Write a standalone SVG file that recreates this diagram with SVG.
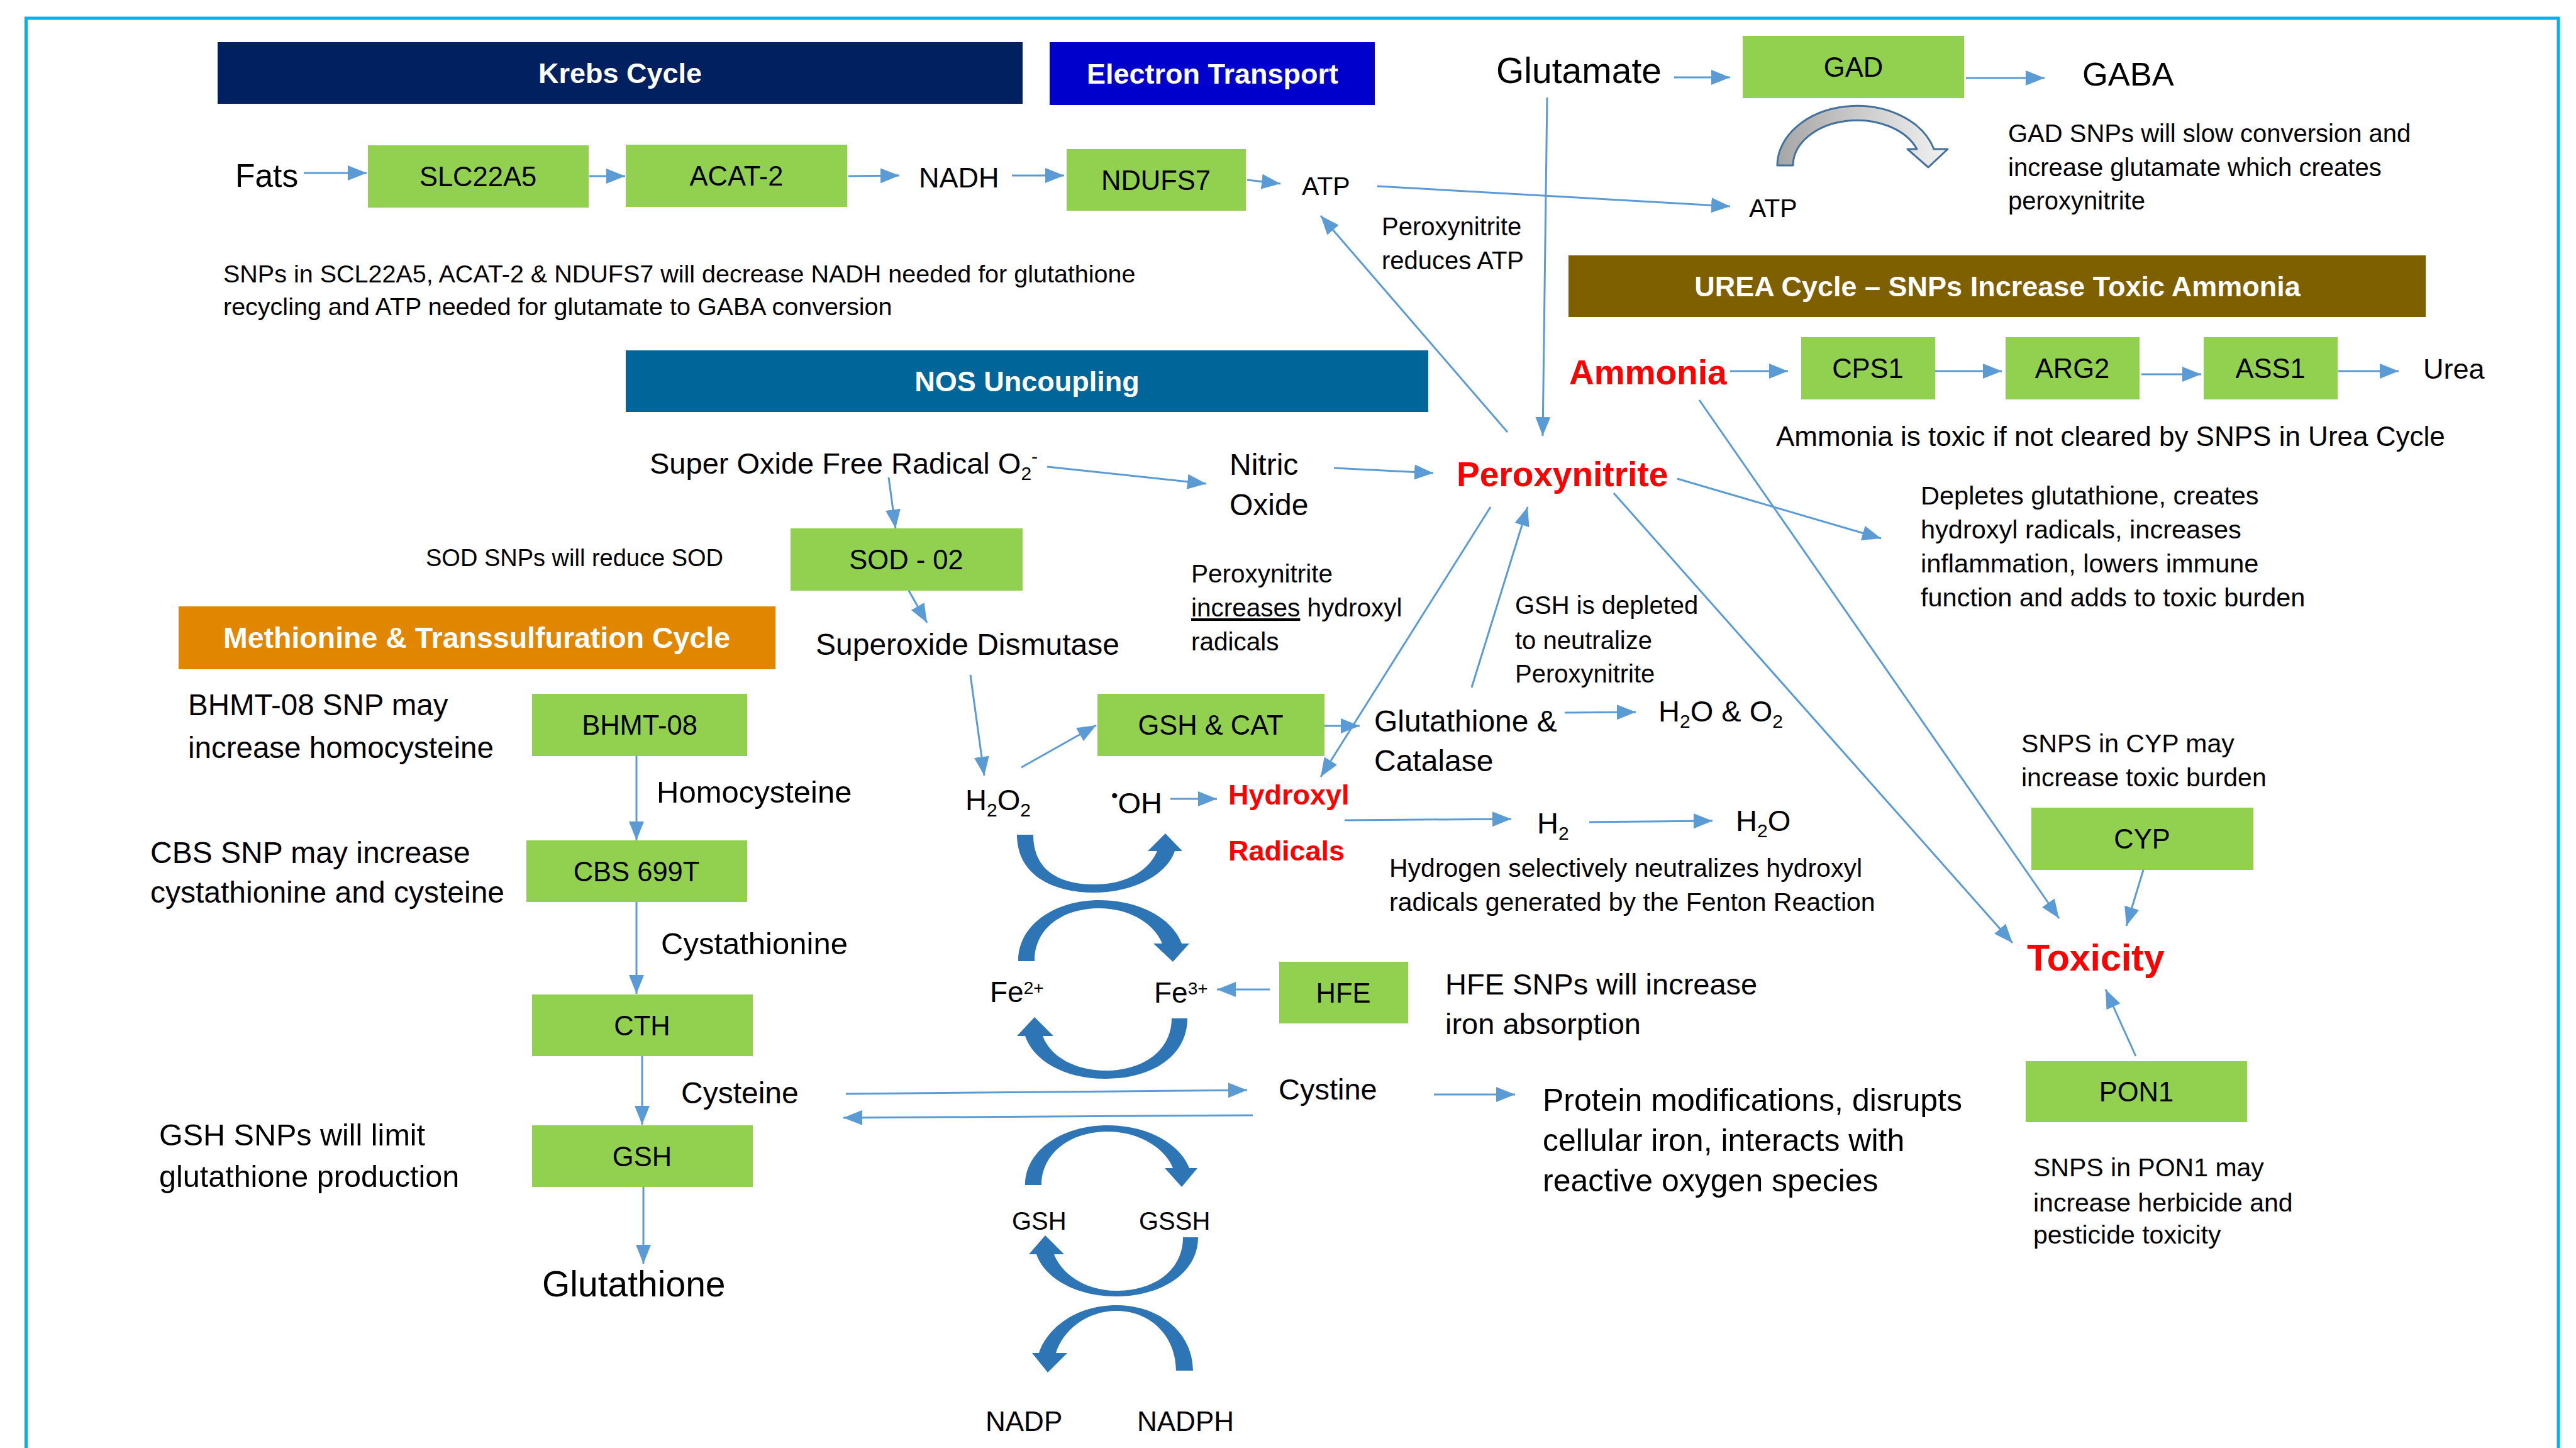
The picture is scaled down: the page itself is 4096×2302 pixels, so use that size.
<svg xmlns="http://www.w3.org/2000/svg" width="4096" height="2302" viewBox="0 0 4096 2302">
<defs>
<style>
text{font-family:"Liberation Sans",Arial,sans-serif;fill:#000}
.box{fill:#92D050}
.lbl{font-size:43.5px;text-anchor:middle}
.ban{font-size:45px;font-weight:bold;fill:#fff;text-anchor:middle}
.red{fill:#FF0000;font-weight:bold}
.conn{stroke:#5B9BD5;stroke-width:3;fill:none;marker-end:url(#ah)}
.cyc{fill:#2E75B6}
</style>
<marker id="ah" markerUnits="userSpaceOnUse" markerWidth="30" markerHeight="24" refX="30" refY="12" orient="auto"><path d="M0,0 L30,12 L0,24 Z" fill="#5B9BD5"/></marker>
<linearGradient id="gray" x1="0" y1="0" x2="1" y2="0"><stop offset="0" stop-color="#A6A6A6"/><stop offset="1" stop-color="#F2F2F2"/></linearGradient>
</defs>
<rect width="4096" height="2302" fill="#fff"/>
<path id="frame" d="M41.5,2310 V29 H4068 V2310" fill="none" stroke="#00B0F0" stroke-width="5"/>

<!-- banners -->
<g id="krebs"><rect x="346" y="67" width="1280" height="98" fill="#002060"/><text class="ban" x="986" y="132">Krebs Cycle</text></g>
<g id="electron"><rect x="1669" y="67" width="517" height="100" fill="#0000CC"/><text class="ban" x="1928" y="133">Electron Transport</text></g>
<g id="urea-banner"><rect x="2494" y="406" width="1363" height="98" fill="#7F6000"/><text class="ban" x="3176" y="471">UREA Cycle – SNPs Increase Toxic Ammonia</text></g>
<g id="nos"><rect x="995" y="557" width="1276" height="98" fill="#00669A"/><text class="ban" x="1633" y="622">NOS Uncoupling</text></g>
<g id="methionine"><rect x="284" y="964" width="949" height="100" fill="#E08600"/><text class="ban" x="758" y="1030" style="font-size:46.5px">Methionine &amp; Transsulfuration Cycle</text></g>

<!-- green boxes -->
<g id="slc22a5"><rect class="box" x="585" y="231" width="351" height="99"/><text class="lbl" x="760" y="296">SLC22A5</text></g>
<g id="acat2"><rect class="box" x="995" y="230" width="352" height="99"/><text class="lbl" x="1171" y="295">ACAT-2</text></g>
<g id="ndufs7"><rect class="box" x="1696" y="237" width="285" height="98"/><text class="lbl" x="1838" y="302">NDUFS7</text></g>
<g id="gad"><rect class="box" x="2771" y="57" width="352" height="99"/><text class="lbl" x="2947" y="122">GAD</text></g>
<g id="cps1"><rect class="box" x="2864" y="536" width="213" height="99"/><text class="lbl" x="2970" y="601">CPS1</text></g>
<g id="arg2"><rect class="box" x="3189" y="536" width="213" height="99"/><text class="lbl" x="3295" y="601">ARG2</text></g>
<g id="ass1"><rect class="box" x="3504" y="536" width="213" height="99"/><text class="lbl" x="3610" y="601">ASS1</text></g>
<g id="sod02"><rect class="box" x="1257" y="840" width="369" height="99"/><text class="lbl" x="1441" y="905">SOD - 02</text></g>
<g id="bhmt08"><rect class="box" x="846" y="1103" width="342" height="99"/><text class="lbl" x="1017" y="1168">BHMT-08</text></g>
<g id="cbs699t"><rect class="box" x="837" y="1336" width="351" height="98"/><text class="lbl" x="1012" y="1401">CBS 699T</text></g>
<g id="cth"><rect class="box" x="846" y="1581" width="351" height="98"/><text class="lbl" x="1021" y="1646">CTH</text></g>
<g id="gsh-box"><rect class="box" x="846" y="1789" width="351" height="98"/><text class="lbl" x="1021" y="1854">GSH</text></g>
<g id="gshcat"><rect class="box" x="1745" y="1103" width="361" height="99"/><text class="lbl" x="1925" y="1168">GSH &amp; CAT</text></g>
<g id="hfe"><rect class="box" x="2034" y="1529" width="205" height="98"/><text class="lbl" x="2136" y="1594">HFE</text></g>
<g id="cyp"><rect class="box" x="3230" y="1284" width="353" height="99"/><text class="lbl" x="3406" y="1349">CYP</text></g>
<g id="pon1"><rect class="box" x="3221" y="1687" width="352" height="97"/><text class="lbl" x="3397" y="1751">PON1</text></g>

<!-- text nodes -->
<g id="fats"><text x="374" y="297" font-size="51.5">Fats</text></g>
<g id="nadh"><text x="1461" y="298" font-size="45">NADH</text></g>
<g id="atp1"><text x="2070" y="310" font-size="41">ATP</text></g>
<g id="atp2"><text x="2781" y="345" font-size="41">ATP</text></g>
<g id="glutamate"><text x="2379" y="132" font-size="57">Glutamate</text></g>
<g id="gaba"><text x="3311" y="136" font-size="52.5">GABA</text></g>
<g id="krebs-note"><text font-size="39.5"><tspan x="355" y="449">SNPs in SCL22A5, ACAT-2 &amp; NDUFS7 will decrease NADH needed for glutathione</tspan><tspan x="355" y="501">recycling and ATP needed for glutamate to GABA conversion</tspan></text></g>
<g id="gad-note"><text font-size="40"><tspan x="3193" y="226">GAD SNPs will slow conversion and</tspan><tspan x="3193" y="280">increase glutamate which creates</tspan><tspan x="3193" y="333">peroxynitrite</tspan></text></g>
<g id="perox-atp-note"><text font-size="40"><tspan x="2197" y="374">Peroxynitrite</tspan><tspan x="2197" y="428">reduces ATP</tspan></text></g>
<g id="ammonia"><text class="red" x="2495" y="611" font-size="55">Ammonia</text></g>
<g id="urea"><text x="3853" y="602" font-size="45">Urea</text></g>
<g id="ammonia-note"><text x="2824" y="709" font-size="44">Ammonia is toxic if not cleared by SNPS in Urea Cycle</text></g>
<g id="superoxide"><text x="1033" y="753" font-size="47">Super Oxide Free Radical O<tspan font-size="30" dy="10">2</tspan><tspan font-size="30" dy="-27">-</tspan></text></g>
<g id="nitric-oxide"><text font-size="48"><tspan x="1955" y="755">Nitric</tspan><tspan x="1955" y="819">Oxide</tspan></text></g>
<g id="peroxynitrite"><text class="red" x="2316" y="773" font-size="55">Peroxynitrite</text></g>
<g id="depletes-note"><text font-size="41.5"><tspan x="3054" y="802">Depletes glutathione, creates</tspan><tspan x="3054" y="856">hydroxyl radicals, increases</tspan><tspan x="3054" y="910">inflammation, lowers immune</tspan><tspan x="3054" y="964">function and adds to toxic burden</tspan></text></g>
<g id="sod-note"><text x="677" y="900" font-size="38">SOD SNPs will reduce SOD</text></g>
<g id="perox-hydroxyl-note"><text font-size="40.5"><tspan x="1894" y="926">Peroxynitrite</tspan><tspan x="1894" y="980" text-decoration="underline">increases</tspan><tspan> hydroxyl</tspan><tspan x="1894" y="1034">radicals</tspan></text></g>
<g id="gsh-depleted-note"><text font-size="40"><tspan x="2409" y="976">GSH is depleted</tspan><tspan x="2409" y="1032">to neutralize</tspan><tspan x="2409" y="1085">Peroxynitrite</tspan></text></g>
<g id="superoxide-dismutase"><text x="1297" y="1041" font-size="48">Superoxide Dismutase</text></g>
<g id="bhmt-note"><text font-size="47.5"><tspan x="299" y="1137">BHMT-08 SNP may</tspan><tspan x="299" y="1205">increase homocysteine</tspan></text></g>
<g id="glutathione-catalase"><text font-size="48"><tspan x="2185" y="1163">Glutathione &amp;</tspan><tspan x="2185" y="1226">Catalase</tspan></text></g>
<g id="h2o-o2"><text x="2637" y="1147" font-size="47">H<tspan font-size="30" dy="10">2</tspan><tspan dy="-10">O &amp; O</tspan><tspan font-size="30" dy="10">2</tspan></text></g>
<g id="homocysteine"><text x="1044" y="1276" font-size="49">Homocysteine</text></g>
<g id="h2o2"><text x="1535" y="1288" font-size="47">H<tspan font-size="30" dy="10">2</tspan><tspan dy="-10">O</tspan><tspan font-size="30" dy="10">2</tspan></text></g>
<g id="oh"><text x="1767" y="1293" font-size="47"><tspan font-size="30" dy="-18">•</tspan><tspan dy="18">OH</tspan></text></g>
<g id="hydroxyl-radicals"><text class="red" font-size="45"><tspan x="1953" y="1279">Hydroxyl</tspan><tspan x="1953" y="1368">Radicals</tspan></text></g>
<g id="h2"><text x="2444" y="1325" font-size="47">H<tspan font-size="30" dy="10">2</tspan></text></g>
<g id="h2o"><text x="2760" y="1321" font-size="47">H<tspan font-size="30" dy="10">2</tspan><tspan dy="-10">O</tspan></text></g>
<g id="cbs-note"><text font-size="48"><tspan x="239" y="1372">CBS SNP may increase</tspan><tspan x="239" y="1435">cystathionine and cysteine</tspan></text></g>
<g id="hydrogen-note"><text font-size="41"><tspan x="2209" y="1394">Hydrogen selectively neutralizes hydroxyl</tspan><tspan x="2209" y="1448">radicals generated by the Fenton Reaction</tspan></text></g>
<g id="cystathionine"><text x="1051" y="1517" font-size="49">Cystathionine</text></g>
<g id="cyp-note"><text font-size="41"><tspan x="3214" y="1196">SNPS in CYP may</tspan><tspan x="3214" y="1250">increase toxic burden</tspan></text></g>
<g id="toxicity"><text class="red" x="3223" y="1543" font-size="59">Toxicity</text></g>
<g id="fe2"><text x="1574" y="1593" font-size="46">Fe<tspan font-size="28" dy="-13">2+</tspan></text></g>
<g id="fe3"><text x="1835" y="1594" font-size="46">Fe<tspan font-size="28" dy="-13">3+</tspan></text></g>
<g id="hfe-note"><text font-size="47"><tspan x="2298" y="1581">HFE SNPs will increase</tspan><tspan x="2298" y="1644">iron absorption</tspan></text></g>
<g id="cysteine"><text x="1083" y="1754" font-size="48">Cysteine</text></g>
<g id="cystine"><text x="2033" y="1748" font-size="47">Cystine</text></g>
<g id="protein-note"><text font-size="50"><tspan x="2453" y="1766">Protein modifications, disrupts</tspan><tspan x="2453" y="1830">cellular iron, interacts with</tspan><tspan x="2453" y="1894">reactive oxygen species</tspan></text></g>
<g id="gsh-note"><text font-size="48.5"><tspan x="253" y="1821">GSH SNPs will limit</tspan><tspan x="253" y="1887">glutathione production</tspan></text></g>
<g id="gsh-cyc"><text x="1609" y="1955" font-size="40">GSH</text></g>
<g id="gssh"><text x="1811" y="1955" font-size="40">GSSH</text></g>
<g id="glutathione"><text x="862" y="2061" font-size="57">Glutathione</text></g>
<g id="pon1-note"><text font-size="41"><tspan x="3233" y="1870">SNPS in PON1 may</tspan><tspan x="3233" y="1926">increase herbicide and</tspan><tspan x="3233" y="1977">pesticide toxicity</tspan></text></g>
<g id="nadp"><text x="1567" y="2275" font-size="44">NADP</text></g>
<g id="nadph"><text x="1808" y="2275" font-size="44">NADPH</text></g>

<!-- GAD curved arrow -->
<g id="gad-arrow"><path d="M2826,263 A127,95 0 0 1 3075,237 L3097,237 L3066,266 L3033,237 L3048,237 A102,72 0 0 0 2851,263 Z" fill="url(#gray)" stroke="#41719C" stroke-width="3" stroke-linejoin="round"/></g>

<!-- cycle arrows -->
<g id="cycles">
<path class="cyc" d="M1617,1327 C1617,1390 1672,1419 1740,1419 C1800,1419 1855,1392 1868,1353 L1880,1353 L1853,1325 L1825,1353 L1840,1353 C1826,1385 1790,1406 1740,1406 C1686,1406 1643,1385 1643,1327 Z"/>
<path class="cyc" d="M1619,1528 C1619,1468 1680,1431 1748,1431 C1815,1431 1865,1462 1879,1500 L1891,1500 L1865,1529 L1834,1500 L1848,1500 C1835,1468 1795,1444 1748,1444 C1690,1444 1645,1475 1645,1528 Z"/>
<path class="cyc" d="M1888,1619 C1888,1680 1830,1715 1758,1715 C1690,1715 1643,1685 1630,1647 L1617,1647 L1645,1617 L1675,1647 L1658,1647 C1670,1680 1710,1702 1758,1702 C1818,1702 1863,1670 1863,1619 Z"/>
<path class="cyc" d="M1630,1884 C1630,1828 1690,1789 1761,1789 C1830,1789 1878,1822 1891,1857 L1904,1857 L1879,1887 L1852,1857 L1865,1857 C1853,1826 1812,1799 1761,1799 C1700,1799 1656,1835 1656,1884 Z"/>
<path class="cyc" d="M1905,1967 C1905,2025 1845,2061 1775,2061 C1708,2061 1660,2030 1648,1994 L1636,1994 L1662,1964 L1692,1994 L1676,1994 C1688,2025 1725,2052 1775,2052 C1835,2052 1881,2020 1881,1967 Z"/>
<path class="cyc" d="M1897,2179 C1897,2120 1845,2075 1775,2075 C1710,2075 1665,2112 1652,2151 L1641,2151 L1666,2182 L1697,2151 L1679,2151 C1690,2115 1728,2084 1775,2084 C1830,2084 1870,2125 1870,2179 Z"/>
</g>

<!-- connectors -->
<g id="connectors">
<line class="conn" x1="483" y1="275" x2="583" y2="275"/>
<line class="conn" x1="937" y1="280" x2="994" y2="280"/>
<line class="conn" x1="1349" y1="280" x2="1430" y2="279"/>
<line class="conn" x1="1609" y1="279" x2="1692" y2="279"/>
<line class="conn" x1="1983" y1="286" x2="2036" y2="292"/>
<line class="conn" x1="2190" y1="296" x2="2751" y2="328"/>
<line class="conn" x1="2662" y1="123" x2="2751" y2="123"/>
<line class="conn" x1="3126" y1="124" x2="3251" y2="124"/>
<line class="conn" x1="2460" y1="155" x2="2453" y2="693"/>
<line class="conn" x1="2397" y1="687" x2="2100" y2="343"/>
<line class="conn" x1="1665" y1="742" x2="1918" y2="769"/>
<line class="conn" x1="2121" y1="744" x2="2279" y2="752"/>
<line class="conn" x1="1413" y1="759" x2="1424" y2="840"/>
<line class="conn" x1="1445" y1="939" x2="1474" y2="990"/>
<line class="conn" x1="2751" y1="590" x2="2843" y2="590"/>
<line class="conn" x1="3077" y1="590" x2="3183" y2="590"/>
<line class="conn" x1="3405" y1="595" x2="3500" y2="595"/>
<line class="conn" x1="3718" y1="590" x2="3814" y2="590"/>
<line class="conn" x1="2702" y1="636" x2="3274" y2="1460"/>
<line class="conn" x1="2566" y1="784" x2="3200" y2="1499"/>
<line class="conn" x1="2667" y1="761" x2="2991" y2="856"/>
<line class="conn" x1="2370" y1="806" x2="2100" y2="1235"/>
<line class="conn" x1="2340" y1="1093" x2="2429" y2="806"/>
<line class="conn" x1="2106" y1="1154" x2="2162" y2="1154"/>
<line class="conn" x1="2488" y1="1133" x2="2601" y2="1132"/>
<line class="conn" x1="1543" y1="1073" x2="1565" y2="1233"/>
<line class="conn" x1="1624" y1="1220" x2="1743" y2="1153"/>
<line class="conn" x1="1861" y1="1270" x2="1935" y2="1270"/>
<line class="conn" x1="2138" y1="1304" x2="2403" y2="1302"/>
<line class="conn" x1="2527" y1="1307" x2="2723" y2="1305"/>
<line class="conn" x1="2019" y1="1573" x2="1935" y2="1573"/>
<line class="conn" x1="1345" y1="1739" x2="1983" y2="1733"/>
<line class="conn" x1="1992" y1="1773" x2="1341" y2="1777"/>
<line class="conn" x1="2280" y1="1740" x2="2409" y2="1740"/>
<line class="conn" x1="1012" y1="1202" x2="1012" y2="1336"/>
<line class="conn" x1="1012" y1="1434" x2="1012" y2="1580"/>
<line class="conn" x1="1021" y1="1679" x2="1021" y2="1788"/>
<line class="conn" x1="1023" y1="1887" x2="1023" y2="2009"/>
<line class="conn" x1="3408" y1="1383" x2="3381" y2="1472"/>
<line class="conn" x1="3396" y1="1679" x2="3348" y2="1573"/>
</g>
</svg>
